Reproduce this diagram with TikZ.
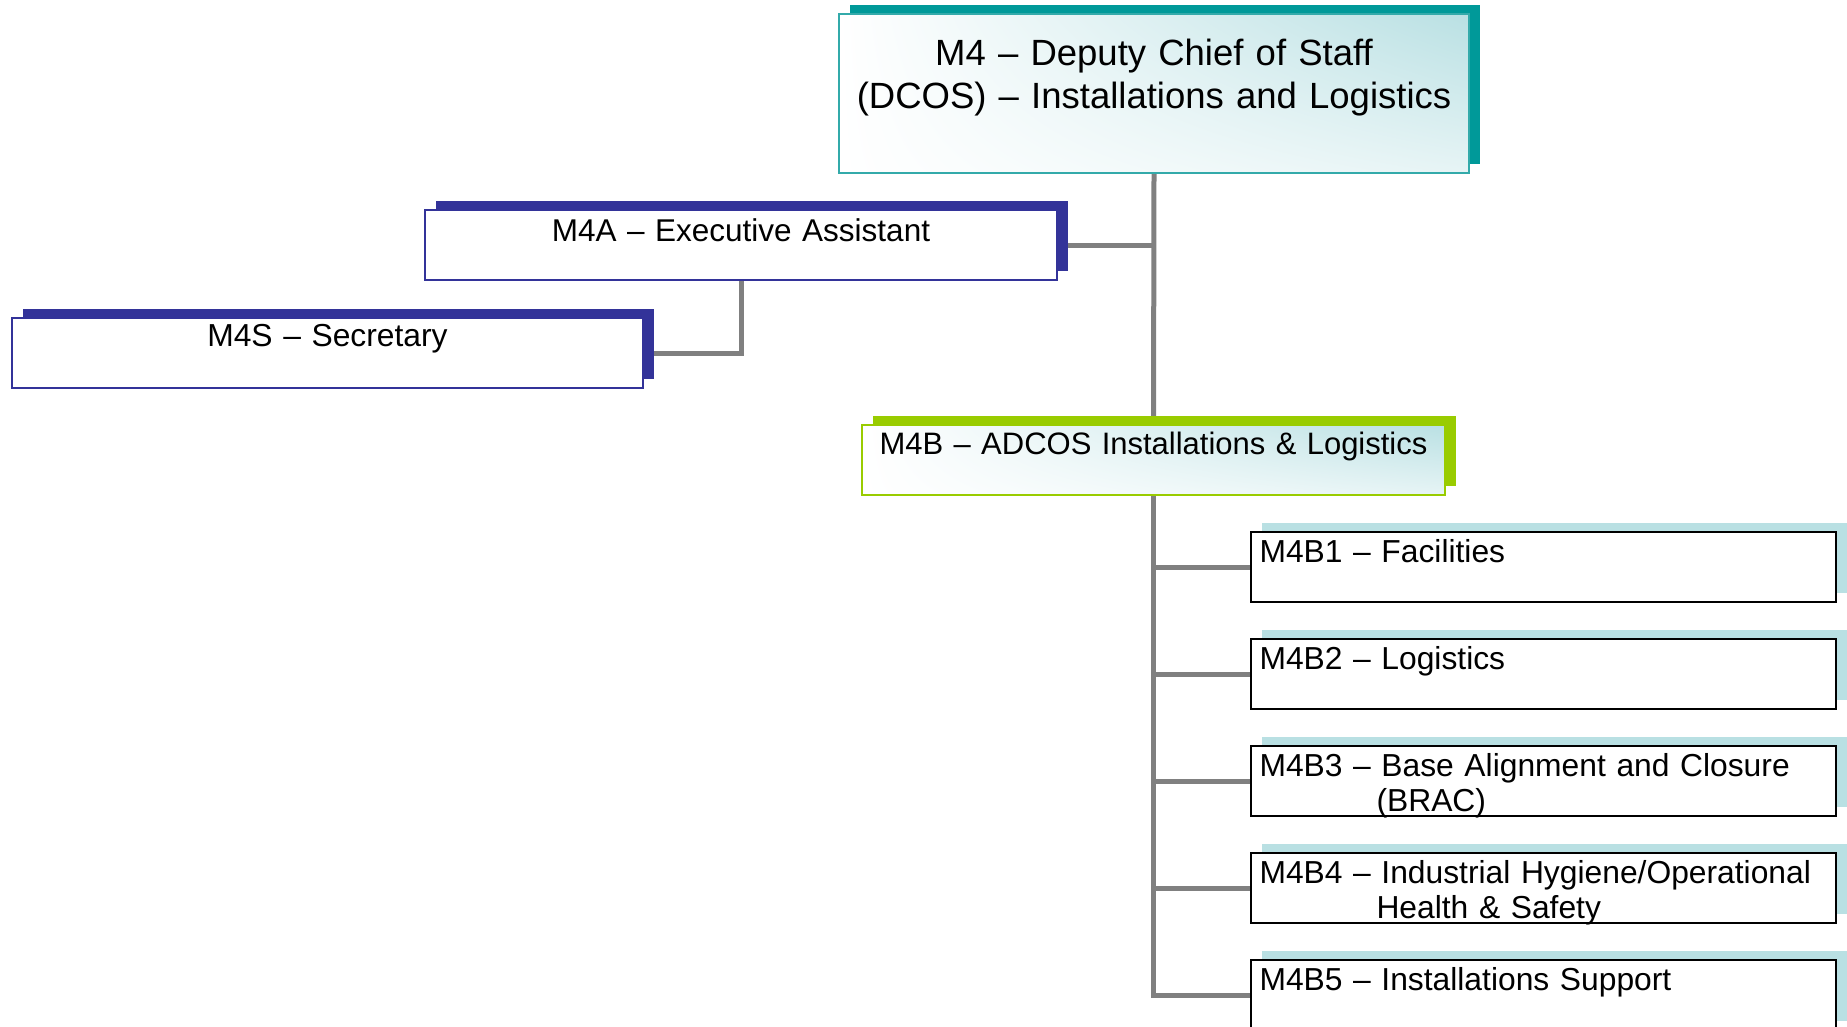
\documentclass[tikz,border=0pt]{standalone}
\usepackage{fontspec}
\setmainfont{Liberation Sans}
\usetikzlibrary{positioning,shadows,shadings,backgrounds}

\definecolor{dcosteal}{RGB}{0,153,153}
\definecolor{dcosline}{RGB}{51,170,170}
\definecolor{navyunit}{RGB}{51,51,153}
\definecolor{limeunit}{RGB}{153,204,0}
\definecolor{paleteal}{RGB}{185,224,227}
\definecolor{linkgray}{RGB}{128,128,128}

\begin{document}
\begin{tikzpicture}[x=1pt, y=-1pt,
		unit/.style={draw, line width=2pt, inner xsep=9pt, inner ysep=0pt,
			font=\fontsize{31.8}{35}\selectfont},
		shade/.style={upper left=white, lower left=white, lower right=paleteal!35, upper right=paleteal},
		drop/.style={drop shadow={shadow xshift=11pt, shadow yshift=9pt, fill=#1, opacity=1}},
		staffunit/.style={unit, draw=navyunit, fill=white, drop=navyunit, align=center},
		branch/.style={unit, draw=black, fill=white, drop=paleteal, align=left,
			text width=567pt, text height=30.5pt, text depth=39.5pt},
		link/.style={draw=linkgray, line width=5pt}]
	
	\useasboundingbox (0,0) rectangle (1847,1027);
	
	% --- head of the directorate ---
	\node[unit, draw=dcosline, shade, drop=dcosteal, align=center,
		font=\fontsize{36.5}{43}\selectfont,
		text width=612pt, text height=52pt, text depth=107pt] (m4) at (1154,93.5)
		{M4 -- Deputy Chief of Staff\\(DCOS) -- Installations and Logistics};
	
	% --- staff ---
	\node[staffunit, font=\fontsize{31.5}{35}\selectfont,
		text width=614pt, text height=31pt, text depth=39pt] (m4a) at (741,245)
		{M4A -- Executive Assistant};
	\node[staffunit, text width=613pt, text height=28pt, text depth=42pt] (m4s) at (327.5,353)
		{M4S -- Secretary};
	
	% --- assistant deputy ---
	\node[unit, draw=limeunit, shade, drop=limeunit, align=center,
		font=\fontsize{31}{35}\selectfont,
		text width=565pt, text height=29pt, text depth=41pt] (m4b) at (1153.5,460)
		{M4B -- ADCOS Installations \& Logistics};
	
	% --- branches ---
	\node[branch] (m4b1) at (1543,567) {M4B1 -- Facilities};
	\node[branch, below=35pt of m4b1] (m4b2) {M4B2 -- Logistics};
	\node[branch, below=35pt of m4b2] (m4b3) {M4B3 -- Base Alignment and Closure\\\hspace*{117pt}(BRAC)};
	\node[branch, below=35pt of m4b3] (m4b4) {M4B4 -- Industrial Hygiene/Operational\\\hspace*{117pt}Health \& Safety};
	\node[branch, below=35pt of m4b4] (m4b5) {M4B5 -- Installations Support};
	
	% --- connectors, behind the boxes ---
	\begin{scope}[on background layer]
		\draw[link] (m4.south) -- (m4b.north);
		\draw[link] (m4a.east) -- (m4a.east -| m4.south);
		\draw[link] (m4a.south) |- (m4s.east);
		\draw[link] (m4b.south) |- (m4b5.west);
		\foreach \u in {m4b1,m4b2,m4b3,m4b4}
			\draw[link] (\u.west -| m4b.south) -- (\u.west);
	\end{scope}
	
\end{tikzpicture}
\end{document}
